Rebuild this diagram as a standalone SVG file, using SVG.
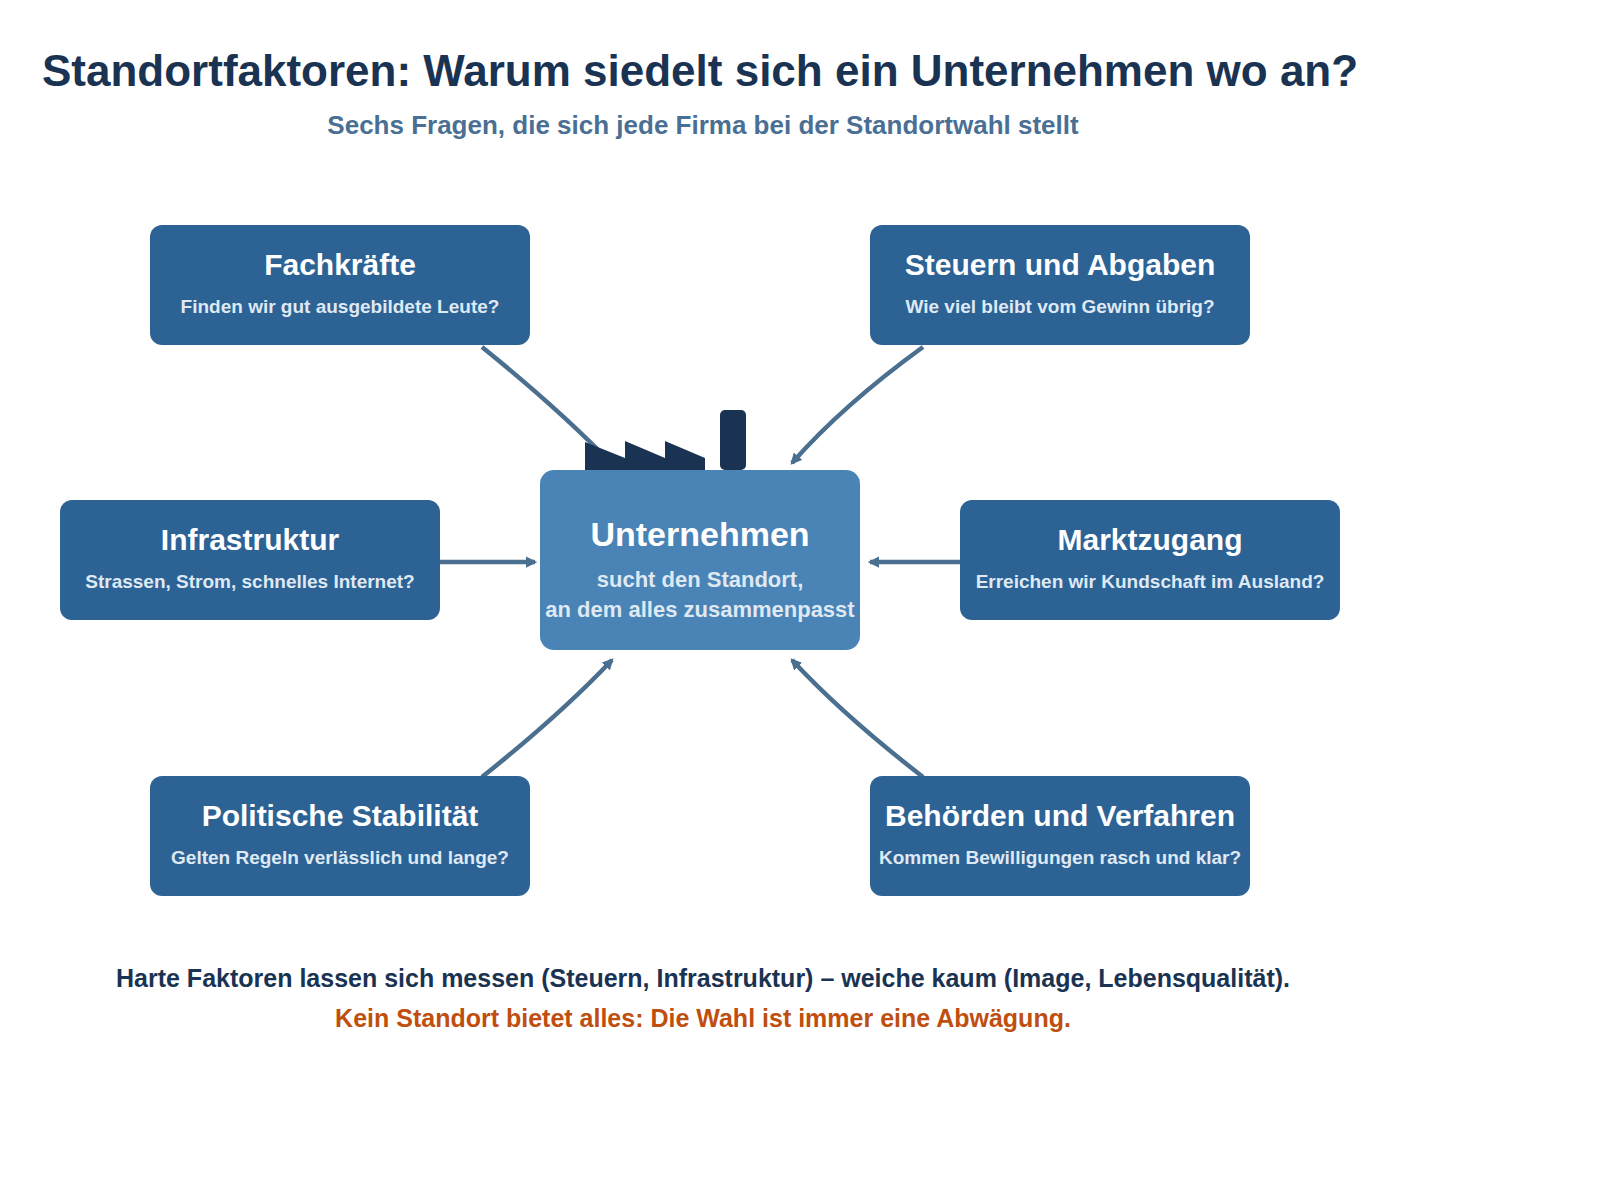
<svg xmlns="http://www.w3.org/2000/svg" width="1600" height="1200" viewBox="0 0 1600 1200">
<defs>
<marker id="ah" viewBox="0 0 10 10" refX="8" refY="5" markerWidth="2.5" markerHeight="2.5" orient="auto"><path d="M0,0 L10,5 L0,10 z" fill="#4a6f8f"/></marker>
<style>
text{font-family:"Liberation Sans",Arial,sans-serif;font-weight:bold;text-anchor:middle}
.box{fill:#2d6295}
.h{fill:#fff;font-size:30px}
.s{fill:#dfe9f3;font-size:19px}
.c{fill:none;stroke:#4a6f8f;stroke-width:4.5;marker-end:url(#ah)}
</style>
</defs>
<rect width="1600" height="1200" fill="#fff"/>
<text x="42" y="86" style="text-anchor:start;font-size:44px;fill:#1a3352">Standortfaktoren: Warum siedelt sich ein Unternehmen wo an?</text>
<text x="703" y="134" style="font-size:26px;fill:#4a6f94">Sechs Fragen, die sich jede Firma bei der Standortwahl stellt</text>
<g id="connectors">
<path class="c" d="M482,347 Q560,410 612,464"/>
<path class="c" d="M923,347 Q843,405 792,463"/>
<path class="c" d="M440,562 L535,562"/>
<path class="c" d="M960,562 L870,562"/>
<path class="c" d="M482,777 Q560,715 612,660"/>
<path class="c" d="M923,777 Q843,715 792,660"/>
</g>
<g id="factory" fill="#1a3352">
<path d="M585,470 L585,442 L625,458 L625,441 L665,458 L665,441 L705,458 L705,470 z"/>
<rect x="720" y="410" width="26" height="60" rx="5"/>
</g>
<g id="center">
<rect x="540" y="470" width="320" height="180" rx="14" fill="#4a83b5"/>
<text x="700" y="546" style="fill:#fff;font-size:34px">Unternehmen</text>
<text x="700" y="587" style="fill:#dfe9f3;font-size:22px">sucht den Standort,</text>
<text x="700" y="617" style="fill:#dfe9f3;font-size:22px">an dem alles zusammenpasst</text>
</g>
<g id="fachkraefte"><rect class="box" x="150" y="225" width="380" height="120" rx="12"/><text class="h" x="340" y="275">Fachkräfte</text><text class="s" x="340" y="313">Finden wir gut ausgebildete Leute?</text></g>
<g id="steuern"><rect class="box" x="870" y="225" width="380" height="120" rx="12"/><text class="h" x="1060" y="275">Steuern und Abgaben</text><text class="s" x="1060" y="313">Wie viel bleibt vom Gewinn übrig?</text></g>
<g id="infrastruktur"><rect class="box" x="60" y="500" width="380" height="120" rx="12"/><text class="h" x="250" y="550">Infrastruktur</text><text class="s" x="250" y="588">Strassen, Strom, schnelles Internet?</text></g>
<g id="marktzugang"><rect class="box" x="960" y="500" width="380" height="120" rx="12"/><text class="h" x="1150" y="550">Marktzugang</text><text class="s" x="1150" y="588">Erreichen wir Kundschaft im Ausland?</text></g>
<g id="politik"><rect class="box" x="150" y="776" width="380" height="120" rx="12"/><text class="h" x="340" y="826">Politische Stabilität</text><text class="s" x="340" y="864">Gelten Regeln verlässlich und lange?</text></g>
<g id="behoerden"><rect class="box" x="870" y="776" width="380" height="120" rx="12"/><text class="h" x="1060" y="826">Behörden und Verfahren</text><text class="s" x="1060" y="864">Kommen Bewilligungen rasch und klar?</text></g>
<text x="703" y="987" style="font-size:25px;fill:#1a3352">Harte Faktoren lassen sich messen (Steuern, Infrastruktur) – weiche kaum (Image, Lebensqualität).</text>
<text x="703" y="1027" style="font-size:25px;fill:#c04f0f">Kein Standort bietet alles: Die Wahl ist immer eine Abwägung.</text>
</svg>
